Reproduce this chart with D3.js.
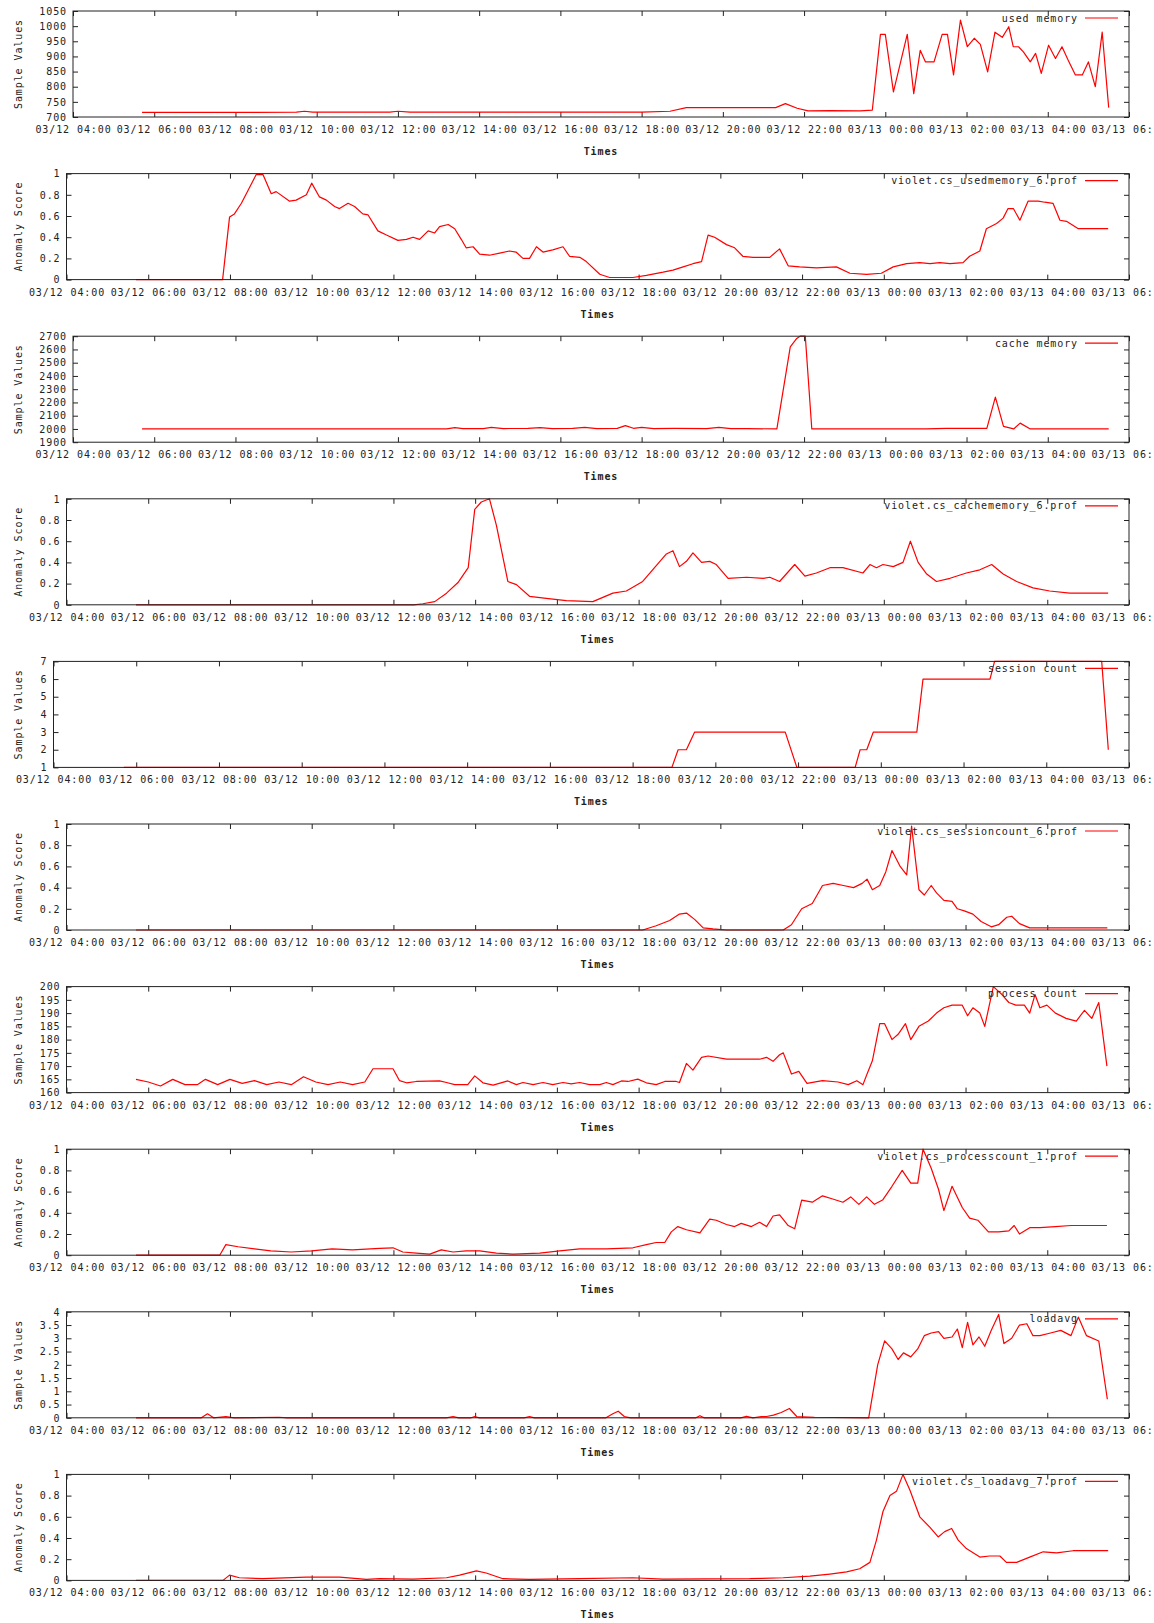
<!DOCTYPE html>
<html>
<head>
<meta charset="utf-8">
<script src="https://cdn.jsdelivr.net/npm/d3@7/dist/d3.min.js"></script>
<style>
  body { margin: 0; background: #fff; }
  svg text { font-family: "DejaVu Sans Mono", monospace; font-size: 10px; letter-spacing: 0.9px; fill: #222; }
</style>
</head>
<body>
<svg></svg>
<script>
// [hour since 03/12 00:00, value]
const usedMemory = [[5.7,715],[7.5,715],[9.5,716],[9.7,719],[9.9,716],[11.8,716],[12.0,719],[12.3,716],[14.0,716],[16.0,716],[18.0,716],[18.7,719],[19.1,731],[21.3,731],[21.54,744],[21.83,729],[22.1,720],[22.64,721],[23.38,720],[23.68,723],[23.88,973],[24.0,973],[24.2,783],[24.54,973],[24.7,777],[24.86,920],[24.99,882],[25.2,882],[25.4,973],[25.53,973],[25.68,839],[25.85,1020],[26.02,932],[26.19,960],[26.34,940],[26.52,849],[26.7,980],[26.88,963],[27.04,998],[27.15,932],[27.28,932],[27.4,915],[27.57,882],[27.7,910],[27.84,844],[28.02,937],[28.19,893],[28.35,932],[28.5,888],[28.68,839],[28.85,839],[29.0,882],[29.17,800],[29.34,980],[29.5,731]]

const usedMemoryScore = [[5.7,0],[7.82,0],[7.99,0.59],[8.11,0.62],[8.28,0.72],[8.64,0.99],[8.81,0.99],[9.01,0.81],[9.13,0.83],[9.46,0.74],[9.62,0.75],[9.87,0.80],[10.0,0.91],[10.19,0.78],[10.36,0.75],[10.56,0.69],[10.68,0.67],[10.89,0.72],[11.05,0.69],[11.25,0.62],[11.38,0.61],[11.62,0.46],[11.83,0.42],[12.11,0.37],[12.32,0.38],[12.48,0.40],[12.64,0.38],[12.85,0.46],[13.01,0.44],[13.13,0.50],[13.34,0.52],[13.5,0.48],[13.66,0.38],[13.78,0.30],[13.95,0.31],[14.11,0.24],[14.35,0.23],[14.6,0.25],[14.84,0.27],[15.0,0.26],[15.17,0.20],[15.33,0.20],[15.5,0.31],[15.66,0.26],[15.9,0.28],[16.15,0.31],[16.31,0.22],[16.56,0.21],[16.72,0.17],[17.05,0.05],[17.29,0.02],[17.86,0.02],[18.19,0.04],[18.6,0.07],[18.84,0.09],[19.09,0.12],[19.33,0.15],[19.54,0.17],[19.7,0.42],[19.86,0.40],[20.15,0.33],[20.35,0.30],[20.55,0.22],[20.8,0.21],[21.21,0.21],[21.45,0.29],[21.66,0.13],[21.94,0.12],[22.35,0.11],[22.84,0.12],[23.17,0.06],[23.58,0.05],[23.94,0.06],[24.23,0.12],[24.56,0.15],[24.88,0.16],[25.13,0.15],[25.37,0.16],[25.62,0.15],[25.94,0.16],[26.1,0.22],[26.35,0.27],[26.51,0.48],[26.76,0.53],[26.92,0.58],[27.04,0.67],[27.17,0.67],[27.33,0.56],[27.53,0.74],[27.78,0.74],[27.94,0.73],[28.14,0.72],[28.31,0.56],[28.47,0.55],[28.76,0.48],[29.49,0.48]]

const cacheMemory = [[5.7,2000],[13.2,2000],[13.4,2010],[13.6,2002],[14.1,2003],[14.3,2012],[14.6,2003],[15.2,2005],[15.5,2010],[15.8,2002],[16.3,2005],[16.6,2012],[16.9,2003],[17.4,2004],[17.6,2025],[17.8,2005],[18.0,2012],[18.3,2003],[18.8,2005],[19.6,2003],[19.9,2012],[20.2,2003],[20.6,2003],[21.33,2000],[21.66,2619],[21.82,2683],[21.9,2700],[22.03,2700],[22.19,2000],[25.0,2000],[25.5,2005],[26.5,2005],[26.71,2240],[26.91,2020],[27.16,2000],[27.32,2044],[27.57,2000],[29.5,2000]]

const cacheMemoryScore = [[5.7,0],[12.5,0],[12.72,0.01],[13.01,0.03],[13.3,0.11],[13.58,0.21],[13.83,0.35],[13.99,0.9],[14.15,0.97],[14.35,1.0],[14.52,0.75],[14.8,0.22],[15.01,0.19],[15.33,0.08],[15.74,0.06],[16.23,0.04],[16.88,0.03],[17.37,0.11],[17.7,0.13],[18.1,0.22],[18.39,0.35],[18.68,0.48],[18.84,0.51],[19.0,0.36],[19.17,0.41],[19.33,0.49],[19.54,0.40],[19.74,0.41],[19.9,0.38],[20.19,0.25],[20.64,0.26],[21.05,0.25],[21.21,0.26],[21.45,0.22],[21.82,0.38],[22.07,0.27],[22.35,0.30],[22.68,0.35],[23.0,0.35],[23.49,0.30],[23.66,0.38],[23.82,0.35],[23.98,0.38],[24.23,0.36],[24.47,0.40],[24.65,0.60],[24.84,0.40],[25.05,0.29],[25.29,0.22],[25.62,0.25],[26.02,0.30],[26.35,0.33],[26.64,0.38],[26.92,0.29],[27.25,0.22],[27.65,0.16],[28.06,0.13],[28.55,0.11],[29.49,0.11]]

const sessionCount = [[5.7,1],[18.95,1],[19.1,2],[19.3,2],[19.5,3],[21.69,3],[21.97,1],[23.38,1],[23.5,2],[23.66,2],[23.82,3],[24.87,3],[25.02,6],[26.64,6],[26.75,7],[29.34,7],[29.5,2]]

const sessionCountScore = [[5.7,0],[18.1,0],[18.43,0.04],[18.76,0.09],[19.0,0.15],[19.17,0.16],[19.37,0.10],[19.58,0.02],[19.82,0.01],[20.15,0],[21.54,0],[21.74,0.05],[21.99,0.2],[22.25,0.25],[22.5,0.42],[22.76,0.44],[23.01,0.42],[23.26,0.40],[23.47,0.44],[23.59,0.48],[23.72,0.38],[23.9,0.42],[24.05,0.55],[24.2,0.75],[24.4,0.6],[24.56,0.52],[24.68,0.98],[24.86,0.38],[24.99,0.33],[25.16,0.42],[25.29,0.35],[25.47,0.28],[25.67,0.27],[25.8,0.2],[25.97,0.18],[26.18,0.15],[26.38,0.08],[26.63,0.03],[26.81,0.05],[27.01,0.12],[27.13,0.13],[27.32,0.06],[27.57,0.02],[27.94,0.02],[29.47,0.02]]

const processCount = [[5.7,165],[6.0,164],[6.3,162.5],[6.6,165],[6.9,163],[7.2,163],[7.4,165],[7.7,163],[8.0,165],[8.3,163.5],[8.6,164.5],[8.9,163],[9.2,164],[9.5,163],[9.8,166],[10.1,164],[10.4,163],[10.7,164],[11.0,163],[11.3,164],[11.5,169],[11.99,169],[12.15,164.5],[12.32,163.7],[12.56,164.2],[13.13,164.4],[13.3,163.8],[13.5,163],[13.82,163],[13.99,166.3],[14.19,163.7],[14.44,162.8],[14.8,164.4],[15.01,163],[15.17,163.8],[15.42,163],[15.66,163.8],[15.9,163],[16.15,163.8],[16.35,163.3],[16.56,163.8],[16.8,163],[17.05,163],[17.21,163.8],[17.37,163],[17.58,164.4],[17.74,164.2],[17.98,165.1],[18.19,163.7],[18.43,163],[18.64,164.2],[18.92,164.2],[19.0,163.8],[19.17,171],[19.33,168.5],[19.54,173.3],[19.7,173.8],[20.15,172.6],[20.96,172.6],[21.13,173.3],[21.29,171.8],[21.45,174.3],[21.54,175],[21.74,167],[21.92,168],[22.12,163.5],[22.5,164.5],[22.88,164],[23.13,163],[23.34,164.5],[23.49,163],[23.59,167],[23.72,172],[23.9,186],[24.02,186],[24.2,180],[24.35,182],[24.53,186],[24.66,180],[24.86,185],[25.09,187],[25.29,190],[25.47,192],[25.67,193],[25.92,193],[26.05,189],[26.18,192],[26.35,190],[26.47,185],[26.68,200],[26.89,197],[27.06,194],[27.23,193],[27.44,193],[27.57,190],[27.7,197],[27.82,192],[27.99,193],[28.2,190],[28.46,188],[28.71,187],[28.91,191],[29.09,188],[29.26,194],[29.46,170]]

const processCountScore = [[5.7,0],[7.75,0],[7.9,0.1],[8.2,0.08],[8.6,0.06],[9.0,0.04],[9.5,0.03],[10.0,0.04],[10.5,0.06],[11.0,0.05],[11.66,0.064],[11.99,0.07],[12.23,0.03],[12.56,0.02],[12.89,0.01],[13.17,0.05],[13.46,0.03],[13.78,0.04],[14.11,0.04],[14.52,0.02],[14.93,0.01],[15.58,0.02],[16.07,0.04],[16.56,0.06],[17.21,0.06],[17.86,0.07],[18.19,0.1],[18.43,0.12],[18.64,0.12],[18.8,0.22],[18.96,0.27],[19.17,0.24],[19.5,0.21],[19.74,0.34],[19.9,0.33],[20.15,0.29],[20.35,0.27],[20.51,0.30],[20.76,0.27],[20.96,0.31],[21.13,0.27],[21.29,0.37],[21.45,0.38],[21.66,0.28],[21.82,0.25],[21.99,0.52],[22.25,0.5],[22.5,0.56],[22.75,0.53],[23.0,0.5],[23.19,0.55],[23.39,0.48],[23.58,0.55],[23.77,0.48],[23.97,0.52],[24.2,0.65],[24.45,0.8],[24.66,0.68],[24.83,0.68],[24.96,1.0],[25.16,0.82],[25.34,0.62],[25.47,0.42],[25.67,0.65],[25.92,0.45],[26.1,0.35],[26.3,0.33],[26.56,0.22],[26.81,0.22],[27.06,0.23],[27.19,0.28],[27.32,0.2],[27.57,0.26],[27.82,0.26],[28.2,0.27],[28.58,0.28],[29.46,0.28]]

const loadAvg = [[5.7,0],[7.3,0],[7.45,0.15],[7.6,0],[7.9,0.05],[8.1,0],[9.2,0.02],[9.4,0],[13.3,0],[13.46,0.05],[13.6,0],[13.9,0],[13.99,0.05],[14.1,0],[15.2,0],[15.33,0.05],[15.45,0],[17.2,0],[17.37,0.15],[17.5,0.25],[17.65,0.05],[17.8,0],[19.4,0],[19.5,0.08],[19.6,0],[20.5,0],[20.64,0.06],[20.8,0],[21.0,0.05],[21.13,0.05],[21.3,0.1],[21.49,0.2],[21.69,0.35],[21.87,0.05],[22.3,0.02],[23.63,0],[23.85,2.0],[24.02,2.9],[24.2,2.6],[24.35,2.2],[24.48,2.45],[24.66,2.3],[24.83,2.6],[24.99,3.1],[25.16,3.2],[25.34,3.25],[25.47,3.0],[25.67,3.05],[25.8,3.35],[25.92,2.65],[26.05,3.6],[26.18,2.75],[26.33,3.05],[26.47,2.7],[26.63,3.3],[26.81,3.9],[26.94,2.8],[27.13,3.0],[27.32,3.5],[27.5,3.55],[27.65,3.1],[27.82,3.1],[28.08,3.2],[28.33,3.3],[28.58,3.1],[28.76,3.8],[28.96,3.1],[29.26,2.9],[29.47,0.7]]

const loadAvgScore = [[5.7,0],[7.83,0],[7.99,0.05],[8.23,0.025],[8.8,0.016],[9.87,0.03],[10.68,0.03],[11.34,0.01],[11.66,0.016],[12.48,0.012],[13.3,0.025],[13.62,0.05],[14.03,0.09],[14.27,0.07],[14.68,0.016],[15.33,0.01],[16.56,0.016],[17.86,0.025],[18.6,0.012],[20.72,0.016],[21.54,0.025],[22.19,0.04],[22.68,0.06],[23.09,0.08],[23.41,0.11],[23.66,0.17],[23.82,0.38],[23.98,0.65],[24.15,0.8],[24.31,0.84],[24.47,1.0],[24.64,0.85],[24.88,0.6],[25.13,0.5],[25.33,0.41],[25.49,0.46],[25.66,0.49],[25.82,0.38],[26.02,0.3],[26.35,0.22],[26.59,0.23],[26.84,0.23],[27.0,0.17],[27.25,0.17],[27.57,0.22],[27.9,0.27],[28.23,0.26],[28.63,0.28],[29.49,0.28]]

const seriesNames = ['used memory','violet.cs_usedmemory_6.prof','cache memory','violet.cs_cachememory_6.prof','session count','violet.cs_sessioncount_6.prof','process count','violet.cs_processcount_1.prof','loadavg','violet.cs_loadavg_7.prof']
const yTitles = ['Sample Values','Anomaly Score','Sample Values','Anomaly Score','Sample Values','Anomaly Score','Sample Values','Anomaly Score','Sample Values','Anomaly Score']
const scoreTicks = ['0','0.2','0.4','0.6','0.8','1']
const yTickLabels = [
  ['700','750','800','850','900','950','1000','1050'],
  scoreTicks,
  ['1900','2000','2100','2200','2300','2400','2500','2600','2700'],
  scoreTicks,
  ['1','2','3','4','5','6','7'],
  scoreTicks,
  ['160','165','170','175','180','185','190','195','200'],
  scoreTicks,
  ['0','0.5','1','1.5','2','2.5','3','3.5','4'],
  scoreTicks
]
const xStartHour = 4, xEndHour = 30
const xAxisTitle = 'Times'

const seriesList = [usedMemory, usedMemoryScore, cacheMemory, cacheMemoryScore, sessionCount, sessionCountScore, processCount, processCountScore, loadAvg, loadAvgScore]

const widthSVG = 1154
const heightSVG = 1623
const panelStep = 162.6
const plotTop = 11
const plotHeight = 106
const plotRight = 1129
const dayZero = new Date(2013, 2, 12, 0, 0)
const aFecha = (h) => new Date(dayZero.getTime() + h * 3600000)

let svg = d3.select('svg')
svg.attr('width', widthSVG).attr('height', heightSVG)

seriesList.forEach((datos, i) => dibujarPanel(datos, i))

function dibujarPanel(datos, i){
  let labels = yTickLabels[i]
  let maxChars = d3.max(labels, (l) => l.length)
  let left = 47 + 6.5 * maxChars
  let top = plotTop + i * panelStep
  let bottom = top + plotHeight

  let xScale = d3.scaleTime()
                 .domain([aFecha(xStartHour), aFecha(xEndHour)])
                 .range([left, plotRight])
  let yScale = d3.scaleLinear()
                 .domain([+labels[0], +labels[labels.length - 1]])
                 .range([bottom, top])

  let g = svg.append('g')

  let xAxis = d3.axisBottom(xScale)
                .ticks(d3.timeHour.every(2))
                .tickFormat(d3.timeFormat('%m/%d %H:%M'))
                .tickSizeInner(-5).tickSizeOuter(0).tickPadding(9)
  let xAxisTop = d3.axisTop(xScale)
                .ticks(d3.timeHour.every(2))
                .tickFormat('')
                .tickSizeInner(-5).tickSizeOuter(0)
  let yAxis = d3.axisLeft(yScale)
                .tickValues(labels.map(Number))
                .tickFormat((d, k) => labels[k])
                .tickSizeInner(-5).tickSizeOuter(0).tickPadding(6)
  let yAxisRight = d3.axisRight(yScale)
                .tickValues(labels.map(Number))
                .tickFormat('')
                .tickSizeInner(-5).tickSizeOuter(0)

  g.append('g').attr('transform', 'translate(0,' + bottom + ')').call(xAxis)
  g.append('g').attr('transform', 'translate(0,' + top + ')').call(xAxisTop)
  g.append('g').attr('transform', 'translate(' + left + ',0)').call(yAxis)
  g.append('g').attr('transform', 'translate(' + plotRight + ',0)').call(yAxisRight)
  g.selectAll('.domain').remove()
  g.selectAll('.tick line').attr('stroke', '#222')
  g.selectAll('.tick text').attr('fill', '#222')

  let linea = d3.line()
                .x((d) => xScale(aFecha(d[0])))
                .y((d) => yScale(d[1]))

  g.append('path')
   .datum(datos)
   .attr('d', linea)
   .attr('fill', 'none')
   .attr('stroke', '#ff0000')
   .attr('stroke-width', 1.2)
   .attr('stroke-linejoin', 'round')

  g.append('rect')
   .attr('x', left).attr('y', top)
   .attr('width', plotRight - left).attr('height', plotHeight)
   .attr('fill', 'none').attr('stroke', '#222').attr('stroke-width', 1)

  // legend
  g.append('text')
   .attr('x', 1078).attr('y', top + 10.5)
   .attr('text-anchor', 'end')
   .text(seriesNames[i])
  g.append('line')
   .attr('x1', 1085).attr('x2', 1118)
   .attr('y1', top + 7).attr('y2', top + 7)
   .attr('stroke', '#ff0000').attr('stroke-width', 1.2)

  g.append('text')
   .attr('x', (left + plotRight) / 2).attr('y', bottom + 38)
   .attr('text-anchor', 'middle')
   .style('font-weight', 'bold')
   .text(xAxisTitle)

  g.append('text')
   .attr('transform', 'translate(22,' + (top + plotHeight / 2) + ') rotate(-90)')
   .attr('text-anchor', 'middle')
   .text(yTitles[i])
}
</script>
</body>
</html>
